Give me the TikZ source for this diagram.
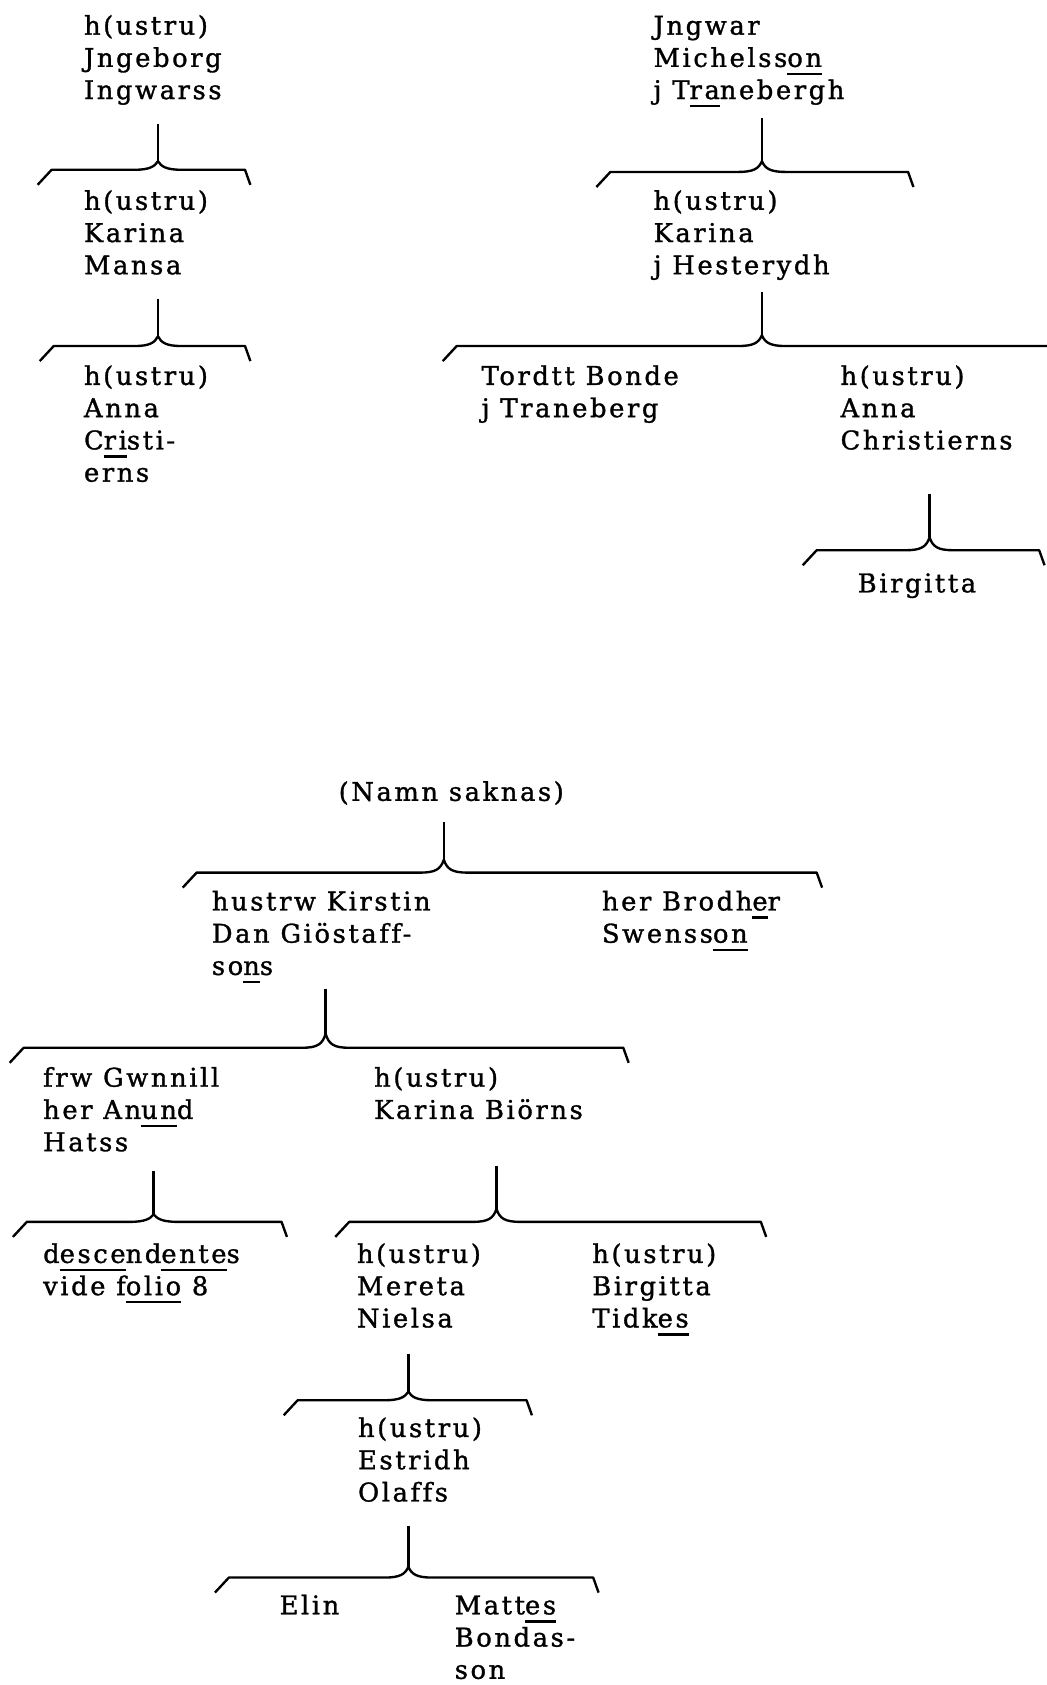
\documentclass[tikz,border=0pt]{standalone}
\usepackage{fontspec}
\setmainfont{DejaVu Serif}[LetterSpace=10,Ligatures=NoCommon,FakeBold=1.2]
\newcommand{\ulx}[1]{\setbox0\hbox{#1}\rlap{\vrule height -5.5pt depth 7.7pt width \wd0}\box0\relax}
\newcommand{\famBr}[6]{% s, top, cusp, horizontal, left, right
  \draw[brace line] (#1,#2) -- (#1,#3);
  \draw[brace line] (#5-13,#4+14) -- (#5,#4) -- (#1-22,#4)
     .. controls (#1-8,#4) and (#1-3,#4-3) .. (#1,#3)
     .. controls (#1+3,#4-3) and (#1+8,#4) .. (#1+22,#4)
     -- (#6,#4) -- (#6+5,#4+14);}
\begin{document}
\begin{tikzpicture}[x=1pt,y=-1pt,
  person/.style={anchor=north west,inner sep=0pt,align=left,
    font=\fontsize{24}{30}\selectfont},
  brace line/.style={line width=2.2pt,line join=round}]
\useasboundingbox[fill=white] (0,0) rectangle (974,1568);
% top left
\node[person] (a0) at (78,25-14) {\strut h(ustru)\\Jngeborg\\Ingwarss};
\node[person] (a1) at (78,188-14) {\strut h(ustru)\\Karina\\Mansa};
\node[person] (a2) at (78,351-14) {\strut h(ustru)\\Anna\\C\ulx{ri}sti-\\erns};
\famBr{147}{115}{150}{158}{48}{228}
\famBr{147}{278}{313}{322}{50}{228}
% top right
\node[person] (b0) at (608,25-14) {\strut Jngwar\\Michelss\ulx{on}\\j T\ulx{ra}nebergh};
\node[person] (b1) at (608,188-14) {\strut h(ustru)\\Karina\\j Hesterydh};
\node[person] (b2a) at (448,351-14) {\strut Tordtt Bonde\\j Traneberg};
\node[person] (b2b) at (782,351-14) {\strut h(ustru)\\Anna\\Christierns};
\node[person] (b3) at (798,544-14) {\strut Birgitta};
\famBr{709}{110}{150}{160}{568}{845}
\famBr{709}{272}{312}{322}{425}{990}
\famBr{865}{460}{500}{512}{760}{967}
% bottom
\node[person] (c0) at (315,738-14) {\strut (Namn saknas)};
\node[person] (c1a) at (197,840-14) {\strut hustrw Kirstin\\Dan Giöstaff-\\so\ulx{n}s};
\node[person] (c1b) at (560,840-14) {\strut her Brodh\ulx{e}r\\Swenss\ulx{on}};
\node[person] (c2a) at (40,1004-14) {\strut frw Gwnnill\\her An\ulx{un}d\\Hatss};
\node[person] (c2b) at (348,1004-14) {\strut h(ustru)\\Karina Biörns};
\node[person] (c3) at (40,1168-14) {\strut d\ulx{esce}nd\ulx{ente}s\\vide f\ulx{olio} 8};
\node[person] (c4a) at (332,1168-14) {\strut h(ustru)\\Mereta\\Nielsa};
\node[person] (c4b) at (551,1168-14) {\strut h(ustru)\\Birgitta\\Tidk\ulx{es}};
\node[person] (c5) at (333,1330-14) {\strut h(ustru)\\Estridh\\Olaffs};
\node[person] (c6a) at (260,1495-14) {\strut Elin};
\node[person] (c6b) at (423,1495-14) {\strut Matt\ulx{es}\\Bondas-\\son};
\famBr{413}{765}{800}{812}{183}{760}
\famBr{303}{920}{962}{975}{22}{580}
\famBr{143}{1090}{1130}{1137}{25}{262}
\famBr{462}{1085}{1125}{1137}{325}{708}
\famBr{380}{1260}{1295}{1303}{277}{490}
\famBr{380}{1420}{1458}{1468}{213}{552}
\end{tikzpicture}
\end{document}
